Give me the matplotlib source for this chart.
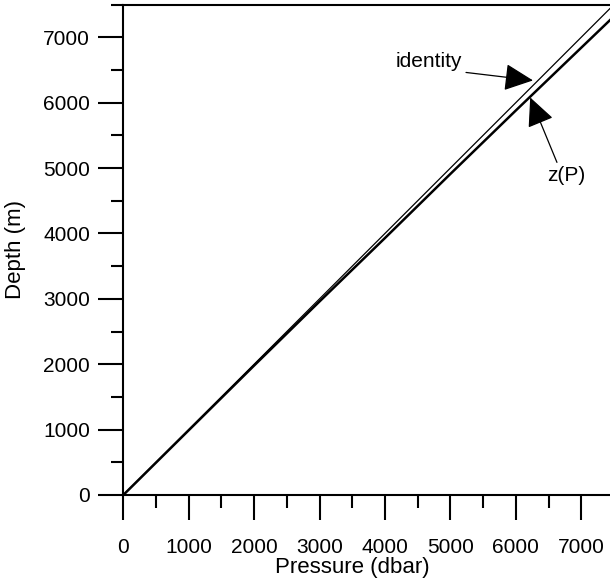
import matplotlib
matplotlib.use("Agg")
import matplotlib.pyplot as plt
from matplotlib.ticker import MultipleLocator

plt.rcParams['font.family'] = ['Liberation Sans', 'DejaVu Sans']

# Data
pressure_identity = [0, 7500]
depth_identity = [0, 7500]

pressure = [0, 1000, 2000, 3000, 4000, 5000, 6000, 7000, 7500]
depth_zP = [0, 990, 1980, 2960, 3930, 4910, 5880, 6840, 7320]

x_ticks = [0, 1000, 2000, 3000, 4000, 5000, 6000, 7000]
y_ticks = [0, 1000, 2000, 3000, 4000, 5000, 6000, 7000]

fig = plt.figure(figsize=(6.10, 5.83), dpi=100)
W, H = 610, 583
left, right = 123.3, 614.0
top, bottom = 4.5, 495.0
ax = fig.add_axes([left / W, (H - bottom) / H, (right - left) / W, (bottom - top) / H])

ax.plot(pressure_identity, depth_identity, color='black', lw=0.9, solid_capstyle='butt')
ax.plot(pressure, depth_zP, color='black', lw=1.8, solid_capstyle='butt')

ax.set_xlim(0, 7500)
ax.set_ylim(0, 7500)
ax.set_xticks(x_ticks)
ax.set_yticks(y_ticks)
ax.xaxis.set_minor_locator(MultipleLocator(500))
ax.yaxis.set_minor_locator(MultipleLocator(500))
ax.tick_params(which='major', direction='out', length=18, width=1.5, labelsize=15)
ax.tick_params(axis='x', which='major', pad=13)
ax.tick_params(axis='y', which='major', pad=6)
ax.tick_params(which='minor', direction='out', length=9, width=1.5)
for s in ax.spines.values():
    s.set_linewidth(1.5)

ax.set_xlabel('Pressure (dbar)', fontsize=16)
ax.set_ylabel('Depth (m)', fontsize=16)
ax.xaxis.set_label_coords((352 - left) / (right - left), -0.127)
ax.yaxis.set_label_coords((26 - left) / (right - left), 0.5)

arrow = dict(arrowstyle='-|>,head_length=1.8,head_width=0.85', color='black', lw=0.9,
             shrinkA=0, shrinkB=0)

ax.text(5175, 6538, 'identity', fontsize=15, ha='right', va='baseline')
ax.annotate('', xy=(6262, 6339), xytext=(5238, 6461), arrowprops=arrow, annotation_clip=False)

ax.text(6766, 4888, 'z(P)', fontsize=15, ha='center', va='center')
ax.annotate('', xy=(6219, 6079), xytext=(6628, 5086), arrowprops=arrow, annotation_clip=False)

fig.savefig('out.png', dpi=100)
